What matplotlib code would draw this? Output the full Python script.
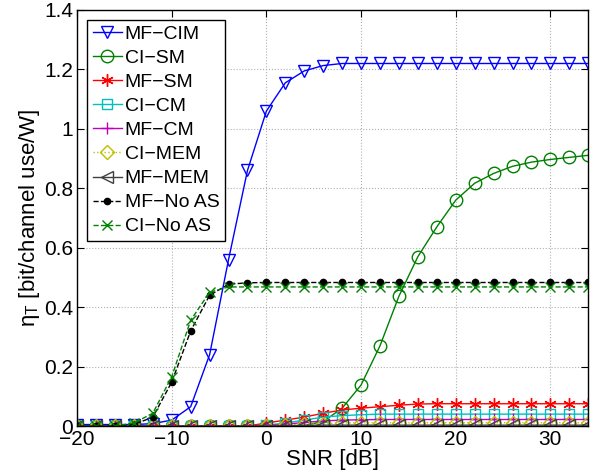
import matplotlib
matplotlib.use("Agg")
import matplotlib.pyplot as plt

plt.rcParams["font.family"] = ["Liberation Sans", "DejaVu Sans"]
plt.rcParams["mathtext.fontset"] = "custom"
plt.rcParams["mathtext.rm"] = "Liberation Sans"
plt.rcParams["mathtext.it"] = "Liberation Sans:italic"

snr = list(range(-20, 35, 2))

mf_cim = [0.005, 0.005, 0.005, 0.005, 0.008, 0.02, 0.065, 0.24, 0.56, 0.86, 1.06,
          1.155, 1.195, 1.213, 1.22, 1.22, 1.22, 1.22, 1.22, 1.22, 1.22, 1.22,
          1.22, 1.22, 1.22, 1.22, 1.22, 1.22]
ci_sm = [0, 0, 0, 0, 0, 0, 0, 0, 0, 0, 0, 0, 0.002, 0.015, 0.06, 0.138, 0.27,
         0.437, 0.57, 0.67, 0.76, 0.817, 0.85, 0.874, 0.888, 0.897, 0.904, 0.911]
mf_sm = [0, 0, 0, 0, 0, 0, 0, 0, 0, 0, 0.01, 0.02, 0.03, 0.043, 0.054, 0.06,
         0.065, 0.07, 0.074, 0.075, 0.075, 0.075, 0.075, 0.075, 0.075, 0.075,
         0.075, 0.075]
ci_cm = [0, 0, 0, 0, 0, 0, 0, 0, 0, 0, 0.003, 0.01, 0.02, 0.03, 0.035, 0.038,
         0.04, 0.04, 0.04, 0.04, 0.04, 0.04, 0.04, 0.04, 0.04, 0.04, 0.04, 0.04]
mf_cm = [0, 0, 0, 0, 0, 0, 0, 0, 0, 0, 0.002, 0.006, 0.012, 0.017, 0.02, 0.021,
         0.022, 0.022, 0.022, 0.022, 0.022, 0.022, 0.022, 0.022, 0.022, 0.022,
         0.022, 0.022]
ci_mem = [0, 0, 0, 0, 0, 0, 0, 0, 0, 0, 0.001, 0.003, 0.006, 0.008, 0.01, 0.011,
          0.011, 0.011, 0.011, 0.011, 0.011, 0.011, 0.011, 0.011, 0.011, 0.011,
          0.011, 0.011]
mf_mem = [0, 0, 0, 0, 0, 0, 0, 0, 0, 0, 0, 0.001, 0.002, 0.003, 0.003, 0.003,
          0.003, 0.003, 0.003, 0.003, 0.003, 0.003, 0.003, 0.003, 0.003, 0.003,
          0.003, 0.003]
mf_noas = [0, 0, 0, 0.005, 0.03, 0.148, 0.32, 0.44, 0.477, 0.482, 0.483, 0.483,
           0.483, 0.483, 0.483, 0.483, 0.483, 0.483, 0.483, 0.483, 0.483, 0.483,
           0.483, 0.483, 0.483, 0.483, 0.483, 0.483]
ci_noas = [0, 0, 0, 0.01, 0.043, 0.166, 0.356, 0.45, 0.468, 0.468, 0.468, 0.468,
           0.468, 0.468, 0.468, 0.468, 0.468, 0.468, 0.468, 0.468, 0.468, 0.468,
           0.468, 0.468, 0.468, 0.468, 0.468, 0.468]

fig = plt.figure(figsize=(5.93, 4.76), dpi=100)
ax = fig.add_axes([0.13, 0.105, 0.862, 0.874])

ax.plot(snr, mf_cim, "-v", color="#0000ff", mfc="none", ms=9, lw=1, label="MF\u2212CIM")
ax.plot(snr, ci_sm, "-o", color="#008000", mfc="none", ms=9, lw=1, label="CI\u2212SM")
ax.plot(snr, mf_sm, "-", marker=(6, 2, 0), color="#ff0000", ms=9, lw=1, label="MF\u2212SM")
ax.plot(snr, ci_cm, "-s", color="#00bfbf", mfc="none", ms=7, lw=1, label="CI\u2212CM")
ax.plot(snr, mf_cm, "-+", color="#bf00bf", ms=9, lw=1, label="MF\u2212CM")
ax.plot(snr, ci_mem, ":D", color="#bfbf00", mfc="none", ms=7, lw=1, label="CI\u2212MEM")
ax.plot(snr, mf_mem, "-<", color="#404040", mfc="none", ms=9, lw=1, label="MF\u2212MEM")
ax.plot(snr, mf_noas, "--.", color="black", ms=9, lw=1, label="MF\u2212No AS")
ax.plot(snr, ci_noas, "--x", color="#008000", ms=7, lw=1, label="CI\u2212No AS")

ax.set_xlim(-20, 34)
ax.set_ylim(0, 1.4)
ax.set_xticks([-20, -10, 0, 10, 20, 30])
ax.set_yticks([0, 0.2, 0.4, 0.6, 0.8, 1.0, 1.2, 1.4])
ax.set_yticklabels(["0", "0.2", "0.4", "0.6", "0.8", "1", "1.2", "1.4"])
ax.tick_params(direction="in", top=True, right=True, labelsize=15, length=5, pad=3)
ax.grid(True, linestyle=":", color="#b0b0b0", linewidth=0.8)
for s in ax.spines.values():
    s.set_linewidth(1)

ax.set_xlabel("SNR [dB]", fontsize=16, labelpad=0)
ax.set_ylabel("\u03b7$_\\mathrm{T}$ [bit/channel use/W]", fontsize=16, labelpad=1)

leg = ax.legend(loc="upper left", fontsize=14, fancybox=False, edgecolor="black",
                framealpha=1, handlelength=1.5, handletextpad=0.15,
                labelspacing=0.33, borderpad=0.3, borderaxespad=0.5)
leg.get_frame().set_linewidth(1)

fig.savefig("out.png", dpi=100)
